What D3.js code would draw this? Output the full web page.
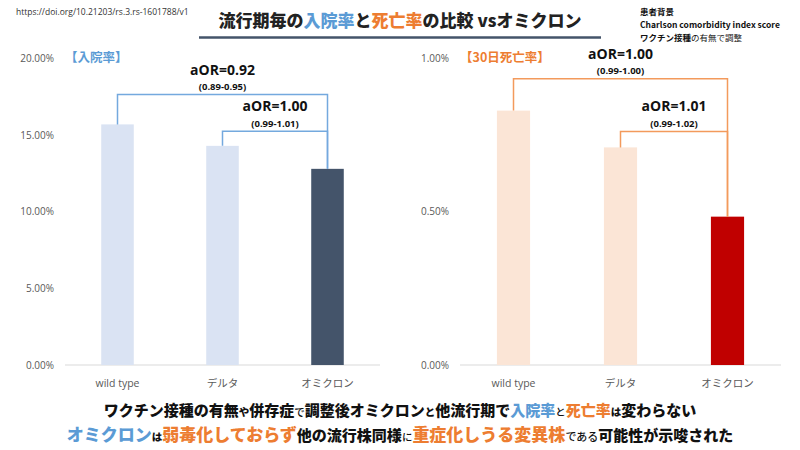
<!DOCTYPE html>
<html>
<head>
<meta charset="utf-8">
<script src="https://cdn.jsdelivr.net/npm/d3@7"></script>
<style>
  body { margin: 0; background: #fff; }
  svg { font-family: "Noto Sans CJK JP", "Noto Sans", sans-serif; }
  .tick text { fill: #595959; font-family: "Open Sans", "Noto Sans CJK JP", sans-serif; }
</style>
</head>
<body>
<div class="plot"></div>
<script>
// data
var variants = ["wild type", "デルタ", "オミクロン"];
var admissionRate = [15.7, 14.3, 12.8];      // %
var deathRate = [0.83, 0.71, 0.484];           // %
var admissionTicks = [0, 5, 10, 15, 20];
var deathTicks = [0, 0.5, 1.0];
// brackets: from, to, level (%), label, ci
var admissionOR = [
  {from: 0, to: 2, level: 17.65, label: "aOR=0.92", ci: "(0.89-0.95)"},
  {from: 1, to: 2, level: 15.25, label: "aOR=1.00", ci: "(0.99-1.01)"}
];
var deathOR = [
  {from: 0, to: 2, level: 0.934, label: "aOR=1.00", ci: "(0.99-1.00)"},
  {from: 1, to: 2, level: 0.762, label: "aOR=1.01", ci: "(0.99-1.02)"}
];

var W = 800, H = 450;
var svg = d3.select(".plot").append("svg")
    .attr("width", W).attr("height", H);

// header
svg.append("text")
    .attr("x", 16).attr("y", 15)
    .style("font-size", "8.5px").style("fill", "#333")
    .style("font-family", "'Open Sans', sans-serif")
    .text("https://doi.org/10.21203/rs.3.rs-1601788/v1");

var title = svg.append("text")
    .attr("x", 400).attr("y", 27)
    .attr("text-anchor", "middle")
    .style("font-size", "17px").style("font-weight", 900);
title.append("tspan").style("fill", "#222").text("流行期毎の");
title.append("tspan").style("fill", "#5b9bd5").text("入院率");
title.append("tspan").style("fill", "#222").text("と");
title.append("tspan").style("fill", "#ed7d31").text("死亡率");
title.append("tspan").style("fill", "#222").text("の比較 vsオミクロン");

svg.append("line")
    .attr("x1", 199).attr("x2", 601).attr("y1", 37.5).attr("y2", 37.5)
    .style("stroke", "#44546a").style("stroke-width", 2.5);

var notes = svg.append("g").style("font-size", "8.5px").style("fill", "#111");
notes.append("text").attr("x", 640).attr("y", 15).style("font-weight", 700).text("患者背景");
notes.append("text").attr("x", 640).attr("y", 28).style("font-weight", 700)
    .text("Charlson comorbidity  index score");
var n3 = notes.append("text").attr("x", 640).attr("y", 41);
n3.append("tspan").style("font-weight", 700).text("ワクチン接種");
n3.append("tspan").text("の有無で調整");

// panels
function panel(opt) {
  var x = d3.scaleBand()
      .domain(variants)
      .range([opt.x0, opt.x1])
      .paddingInner(0.69).paddingOuter(0.345);
  var y = d3.scaleLinear().domain(opt.domain).range([365, 58.5]);

  var g = svg.append("g");

  // baseline
  g.append("line")
      .attr("x1", opt.x0).attr("x2", opt.x1)
      .attr("y1", y(0)).attr("y2", y(0))
      .style("stroke", "#d9d9d9").style("stroke-width", 1);

  var yAxis = g.append("g")
      .attr("transform", "translate(" + (opt.x0 - 8) + ",0)")
      .call(d3.axisLeft(y).tickValues(opt.ticks).tickSize(0)
        .tickFormat(function(d) { return d.toFixed(2) + "%"; }));
  yAxis.select(".domain").remove();
  yAxis.selectAll("text").style("font-size", "10px");

  var xAxis = g.append("g")
      .attr("transform", "translate(0," + (y(0) + 12) + ")")
      .call(d3.axisBottom(x).tickSize(0));
  xAxis.select(".domain").remove();
  xAxis.selectAll("text").style("font-size", "10.5px");

  g.selectAll(".bar")
      .data(opt.values)
      .enter().append("rect")
      .attr("class", "bar")
      .attr("x", function(d, i) { return x(variants[i]); })
      .attr("width", x.bandwidth())
      .attr("y", function(d) { return y(d); })
      .attr("height", function(d) { return y(0) - y(d); })
      .style("fill", function(d, i) { return opt.colors[i]; });

  // brackets
  var cx = function(i) { return x(variants[i]) + x.bandwidth() / 2; };
  opt.brackets.forEach(function(b) {
    var ly = y(b.level);
    g.append("path")
        .attr("d", "M" + cx(b.from) + "," + y(opt.values[b.from]) +
                   "V" + ly + "H" + cx(b.to) + "V" + y(opt.values[b.to]))
        .style("fill", "none")
        .style("stroke", opt.bracketColor)
        .style("stroke-width", 1.5);
    var mx = (cx(b.from) + cx(b.to)) / 2;
    g.append("text")
        .attr("x", mx).attr("y", ly - 20)
        .attr("text-anchor", "middle")
        .style("font-size", "14px").style("font-weight", 700)
        .style("font-family", "'Open Sans', sans-serif")
        .style("fill", "#111")
        .text(b.label);
    g.append("text")
        .attr("x", mx).attr("y", ly - 4.5)
        .attr("text-anchor", "middle")
        .style("font-size", "9.5px").style("font-weight", 700)
        .style("font-family", "'Open Sans', sans-serif")
        .style("fill", "#111")
        .text(b.ci);
  });

  g.append("text")
      .attr("x", opt.x0).attr("y", 62)
      .style("font-size", "12.5px").style("font-weight", 700)
      .style("fill", opt.labelColor)
      .text(opt.label);
}

panel({
  x0: 65, x1: 380, domain: [0, 20], ticks: admissionTicks,
  values: admissionRate,
  colors: ["#dae3f3", "#dae3f3", "#44546a"],
  bracketColor: "#74a9de", brackets: admissionOR,
  label: "【入院率】", labelColor: "#5b9bd5"
});
panel({
  x0: 460, x1: 781, domain: [0, 1], ticks: deathTicks,
  values: deathRate,
  colors: ["#fbe5d6", "#fbe5d6", "#c00000"],
  bracketColor: "#f39a5c", brackets: deathOR,
  label: "【30日死亡率】", labelColor: "#ed7d31"
});

// conclusion
var blue = "#5b9bd5", orange = "#ed7d31", black = "#111";
function line(yPos, parts) {
  var t = svg.append("text")
      .attr("x", 400).attr("y", yPos)
      .attr("text-anchor", "middle")
      .style("font-weight", 900);
  parts.forEach(function(p) {
    t.append("tspan")
        .style("fill", p[1])
        .style("font-size", p[2] + "px")
        .style("font-weight", p[3] || 900)
        .text(p[0]);
  });
}
line(416, [
  ["ワクチン接種の有無", black, 15], ["や", black, 10.5], ["併存症", black, 15],
  ["で", black, 10.5, 500], ["調整後オミクロン", black, 15], ["と", black, 10.5],
  ["他流行期で", black, 15], ["入院率", blue, 15], ["と", black, 10.5, 500],
  ["死亡率", orange, 15], ["は", black, 10.5], ["変わらない", black, 15]
]);
line(441, [
  ["オミクロン", blue, 17], ["は", black, 10.5], ["弱毒化しておらず", orange, 17],
  ["他の流行株同様", black, 15], ["に", black, 10.5, 500],
  ["重症化しうる変異株", orange, 17], ["である", black, 11, 500],
  ["可能性が示唆された", black, 15]
]);
</script>
</body>
</html>
